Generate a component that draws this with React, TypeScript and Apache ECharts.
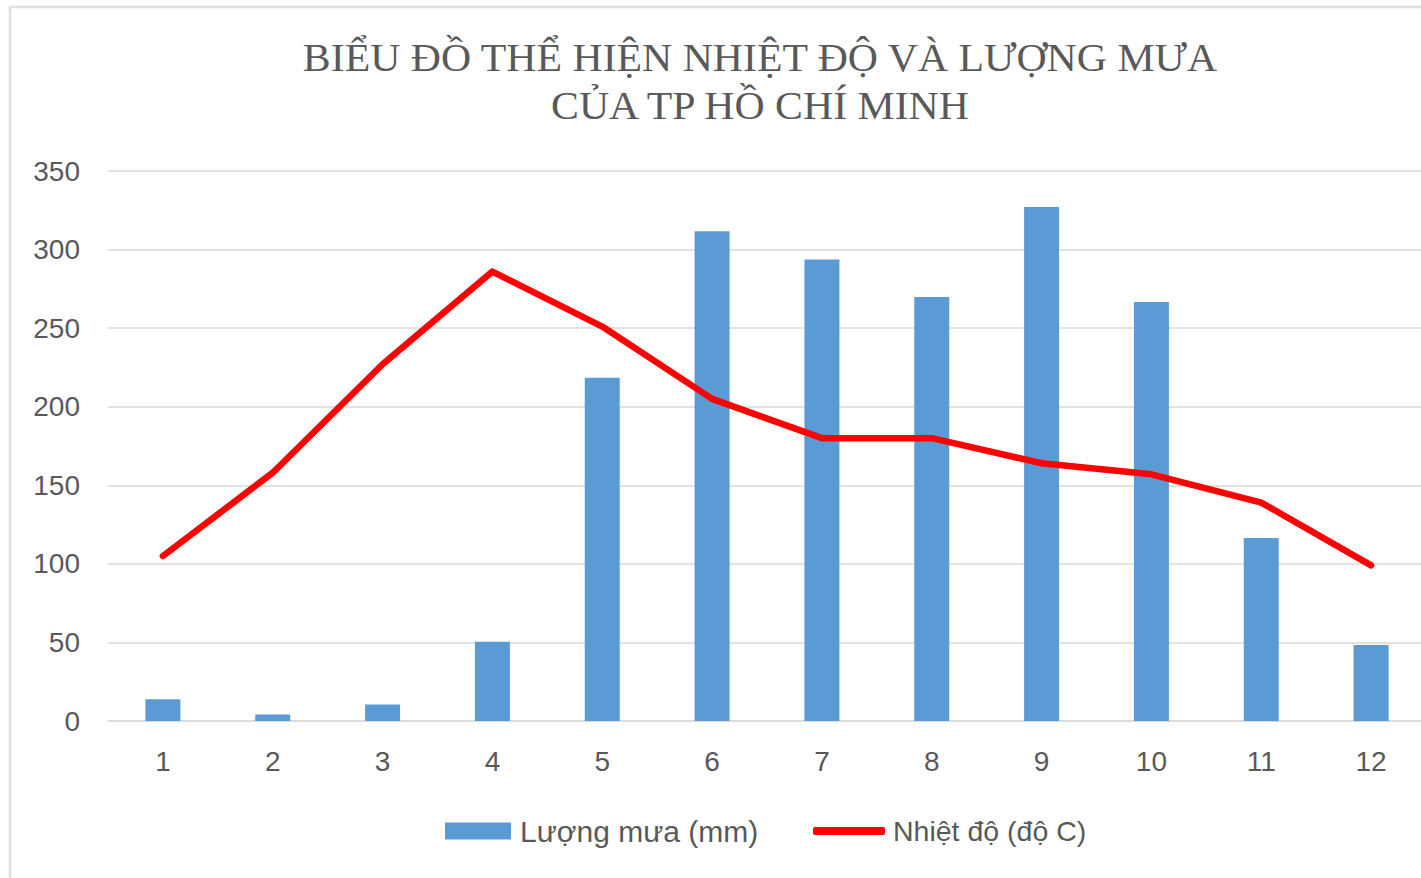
import React, { useEffect, useRef } from "react";
import * as echarts from "echarts";

const categories = ["1", "2", "3", "4", "5", "6", "7", "8", "9", "10", "11", "12"];
const rainfall = [13.8, 4.1, 10.5, 50.4, 218.4, 311.7, 293.7, 269.8, 327.1, 266.7, 116.5, 48.3];
const temperature = [105, 158, 227, 286, 251, 205, 180, 180, 164, 157, 139, 99];
const yTicks = { min: 0, max: 350, interval: 50 };
const titleLines = ["BIỂU ĐỒ THỂ HIỆN NHIỆT ĐỘ VÀ LƯỢNG MƯA", "CỦA TP HỒ CHÍ MINH"];
const seriesNames = ["Lượng mưa (mm)", "Nhiệt độ (độ C)"];

const GRAY = "#595959";
const GRID = "#d9d9d9";
const SANS = "'Liberation Sans', Arial, sans-serif";
const SERIF = "'Liberation Serif', 'Times New Roman', serif";

export default function App() {
  const ref = useRef<HTMLDivElement>(null);
  useEffect(() => {
    if (!ref.current) return;
    const chart = echarts.init(ref.current, null, { renderer: "svg" });
    chart.setOption({
      animation: false,
      backgroundColor: "#ffffff",
      graphic: [
        {
          type: "rect",
          shape: { x: 10, y: 7, width: 1460, height: 920 },
          style: { fill: "none", stroke: "#dedede", lineWidth: 2.5 },
          silent: true,
        },
        {
          type: "text",
          x: 760,
          y: 78,
          scaleX: 1.045,
          style: {
            text: titleLines[0],
            fontFamily: SERIF,
            fontSize: 40,
            fill: GRAY,
            textAlign: "center",
            textVerticalAlign: "bottom",
          },
        },
        {
          type: "text",
          x: 760,
          y: 126,
          scaleX: 1.045,
          style: {
            text: titleLines[1],
            fontFamily: SERIF,
            fontSize: 40,
            fill: GRAY,
            textAlign: "center",
            textVerticalAlign: "bottom",
          },
        },
      ],
      legend: [
        {
          data: [{ name: seriesNames[0], icon: "rect" }],
          left: 445,
          top: 816,
          padding: 0,
          itemWidth: 66,
          itemHeight: 17,
          selectedMode: false,
          textStyle: { fontFamily: SANS, fontSize: 30, color: GRAY, lineHeight: 30, padding: [0, 0, 0, 4] },
        },
        {
          data: [{ name: seriesNames[1], icon: "roundRect" }],
          left: 813,
          top: 816,
          padding: 0,
          itemWidth: 72,
          itemHeight: 8,
          selectedMode: false,
          textStyle: { fontFamily: SANS, fontSize: 28.5, color: GRAY, lineHeight: 30, padding: [0, 0, 0, 3] },
        },
      ],
      grid: { left: 108, right: 6, top: 171, bottom: 157 },
      xAxis: {
        type: "category",
        data: categories,
        boundaryGap: true,
        axisLine: { show: true, lineStyle: { color: GRID, width: 1.5 } },
        axisTick: { show: false },
        axisLabel: { fontFamily: SANS, fontSize: 28, color: GRAY, margin: 26 },
      },
      yAxis: {
        type: "value",
        min: yTicks.min,
        max: yTicks.max,
        interval: yTicks.interval,
        axisLine: { show: false },
        axisTick: { show: false },
        splitLine: { lineStyle: { color: GRID, width: 1.5 } },
        axisLabel: { fontFamily: SANS, fontSize: 28, color: GRAY, margin: 28 },
      },
      series: [
        {
          name: seriesNames[0],
          type: "bar",
          data: rainfall,
          barWidth: 35,
          itemStyle: { color: "#5B9BD5" },
        },
        {
          name: seriesNames[1],
          type: "line",
          data: temperature,
          symbol: "none",
          showSymbol: false,
          itemStyle: { color: "#FF0000" },
          lineStyle: { color: "#FF0000", width: 6.5, cap: "round", join: "round" },
        },
      ],
    });
    return () => chart.dispose();
  }, []);
  return (
    <div
      style={{ position: "absolute", left: 0, top: 0, width: 1421, height: 878, overflow: "hidden" }}
    >
      <div ref={ref} style={{ width: 1432, height: 878 }} />
    </div>
  );
}
